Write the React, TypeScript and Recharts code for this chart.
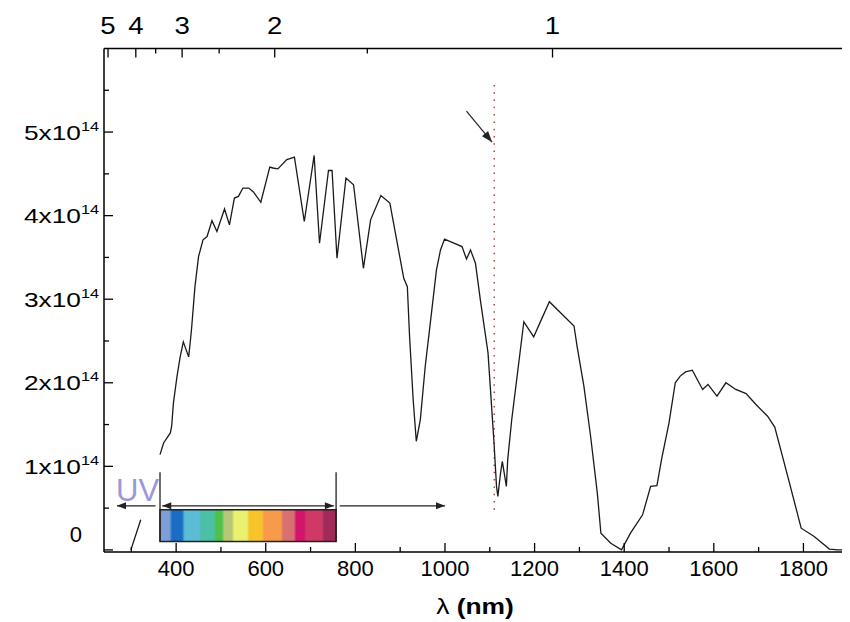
import React from 'react'
import { ComposedChart, Line, XAxis, YAxis, ReferenceLine, ReferenceArea, ReferenceDot, Label } from 'recharts'

// wavelength (nm) and photon flux (x10^14); null = gap in the trace
const wavelengthNm = [
    299, 321, 340, 364, 372, 387, 390, 394, 402, 409, 416, 428, 434, 442, 450, 460, 469, 480, 491, 508, 519,
    530, 539, 549, 562, 573, 589, 609, 616, 627, 647, 664, 686, 708, 720, 740, 748, 759, 779, 796, 818,
    834, 857, 877, 908, 916, 921, 929, 936, 945, 956, 968, 981, 990, 999, 1012, 1038, 1048, 1057, 1068, 1079,
    1096, 1109, 1115, 1118, 1124, 1128, 1137, 1140, 1149, 1161, 1176, 1198, 1233, 1288, 1295, 1310, 1325, 1340, 1348, 1370,
    1394, 1414, 1441, 1459, 1473, 1484, 1500, 1514, 1525, 1537, 1552, 1575, 1587, 1607, 1627, 1649, 1672, 1694, 1720, 1736,
    1765, 1795, 1824, 1858, 1877, 1893,
]
const photonFlux = [
    0, 0.36, null, 1.14, 1.28, 1.40, 1.48, 1.76, 2.08, 2.31, 2.49, 2.31, 2.62, 3.15, 3.51, 3.71, 3.75, 3.94, 3.81, 4.08, 3.89,
    4.21, 4.23, 4.33, 4.33, 4.28, 4.16, 4.58, 4.57, 4.56, 4.67, 4.70, 3.93, 4.72, 3.67, 4.54, 4.54, 3.49, 4.45, 4.37, 3.37,
    3.95, 4.24, 4.15, 3.25, 3.15, 2.55, 1.80, 1.30, 1.56, 2.20, 2.75, 3.35, 3.59, 3.72, 3.69, 3.63, 3.48, 3.59, 3.43, 2.99,
    2.36, 1.32, 0.76, 0.64, 0.92, 1.06, 0.76, 1.08, 1.56, 2.08, 2.73, 2.55, 2.97, 2.68, 2.43, 1.96, 1.36, 0.68, 0.20, 0.08,
    0, 0.20, 0.42, 0.76, 0.77, 1.10, 1.52, 2.00, 2.08, 2.13, 2.15, 1.92, 1.98, 1.84, 2.00, 1.92, 1.87, 1.74, 1.60, 1.47,
    0.88, 0.26, 0.16, 0.01, 0, 0,
]

const bottomTicks = [300, 400, 500, 600, 700, 800, 900, 1000, 1100, 1200, 1300, 1400, 1500, 1600, 1700, 1800]
const bottomLabels = [400, 600, 800, 1000, 1200, 1400, 1600, 1800]
const fluxTicks = [0, 0.5, 1, 1.5, 2, 2.5, 3, 3.5, 4, 4.5, 5, 5.5, 6]
const fluxLabels = [0, 1, 2, 3, 4, 5]
const photonEnergyEv = [5, 4, 3.5, 3, 2.5, 2, 1.5, 1]
const energyLabels = [5, 4, 3, 2, 1]

// annotations (data units)
const bandgapNm = 1110
const visibleRange = [364, 757]
const uvArrow = [354, 268]
const irArrow = [765, 1000]

const X_DOMAIN = [239, 1895]
const Y_DOMAIN = [-0.025, 6]
const FONT = '"Liberation Sans", Arial, sans-serif'

// colour bands of the visible-spectrum strip (fraction of strip width where each band ends)
const bandEnds = [0.061, 0.133, 0.227, 0.313, 0.358, 0.415, 0.5, 0.585, 0.693, 0.767, 0.824, 0.926, 1]
const bandColors = ['#7b9fd6', '#1b6cc4', '#5cbcd6', '#4cbfa6', '#4cc24c', '#b4c878', '#eaf070',
    '#f8c42c', '#f89a4c', '#d87070', '#d2146c', '#d03866', '#a02a58']

const chartData = wavelengthNm.map((nm, i) => ({ nm, flux: photonFlux[i] }))
const energyTicksNm = photonEnergyEv.map(e => 1240 / e)

const BottomTick = (props: any) => {
    const { x, y, payload } = props
    const major = bottomLabels.includes(payload.value)
    return (
        <g>
            <line x1={x} x2={x} y1={y} y2={y - (major ? 9 : 5)} stroke="#000" strokeWidth={1.3} />
            {major && (
                <text x={x} y={y + 24} textAnchor="middle" fontSize={22} fontFamily={FONT} fill="#000">
                    {payload.value}
                </text>
            )}
        </g>
    )
}

const TopTick = (props: any) => {
    const { x, y, payload } = props
    const ev = Math.round((1240 / payload.value) * 10) / 10
    const major = energyLabels.includes(ev)
    return (
        <g>
            <line x1={x} x2={x} y1={y} y2={y + (major ? 9 : 5)} stroke="#000" strokeWidth={1.3} />
            {major && (
                <g transform={`translate(${x},${y - 15}) scale(1.15,1)`}>
                    <text x={0} y={0} textAnchor="middle" fontSize={24} fontFamily={FONT} fill="#000">{ev}</text>
                </g>
            )}
        </g>
    )
}

const LeftTick = (props: any) => {
    const { x, y, payload } = props
    const v = payload.value
    const major = Number.isInteger(v)
    let label = null
    if (fluxLabels.includes(v)) {
        label = v === 0 ? (
            <text x={x - 22} y={y - 7.5} textAnchor="end" fontSize={22} fontFamily={FONT} fill="#000">0</text>
        ) : (
            <g transform={`translate(${x - 5},${y + 7.5}) scale(1.25,1)`}>
                <text x={0} y={0} textAnchor="end" fontSize={21} fontFamily={FONT} fill="#000">
                    {v}x10<tspan dy={-9} fontSize={13}>14</tspan>
                </text>
            </g>
        )
    }
    return (
        <g>
            {v < 6 && <line x1={x} x2={x + (major ? 9 : 5)} y1={y} y2={y} stroke="#000" strokeWidth={1.3} />}
            {label}
        </g>
    )
}

const arrowShape = (both: boolean, head = 9, half = 3.5) => (p: any) => {
    const { x1, y1, x2, y2 } = p
    const a = Math.atan2(y2 - y1, x2 - x1)
    const tip = (x: number, y: number, ang: number) => {
        const bx = x - head * Math.cos(ang)
        const by = y - head * Math.sin(ang)
        const nx = -Math.sin(ang) * half
        const ny = Math.cos(ang) * half
        return `${x},${y} ${bx + nx},${by + ny} ${bx - nx},${by - ny}`
    }
    return (
        <g>
            <line x1={x1} y1={y1} x2={x2} y2={y2} stroke="#222" strokeWidth={1.2} />
            <polygon points={tip(x2, y2, a)} fill="#222" />
            {both && <polygon points={tip(x1, y1, a + Math.PI)} fill="#222" />}
        </g>
    )
}

const AxisTitle = (props: any) => {
    const { viewBox } = props
    const cx = viewBox.x + viewBox.width / 2
    return (
        <g transform={`translate(${cx},${viewBox.y + 62}) scale(1.2,1)`}>
            <text x={0} y={0} textAnchor="middle" fontSize={22} fontFamily={FONT} fill="#000">
                λ <tspan fontWeight="bold">(nm)</tspan>
            </text>
        </g>
    )
}

function App() {
    return (
        <ComposedChart width={842} height={614} data={chartData} margin={{ top: 0, right: 3, bottom: 0, left: 0 }}>
            <defs>
                <linearGradient id="spectrum" x1="0" y1="0" x2="1" y2="0">
                    {bandColors.flatMap((c, i) => {
                        const start = i === 0 ? 0 : bandEnds[i - 1] + 0.008
                        const end = i === bandColors.length - 1 ? 1 : bandEnds[i] - 0.008
                        return [
                            <stop key={`a${i}`} offset={start} stopColor={c} />,
                            <stop key={`b${i}`} offset={end} stopColor={c} />,
                        ]
                    })}
                </linearGradient>
            </defs>
            <XAxis dataKey="nm" type="number" domain={X_DOMAIN} ticks={bottomTicks} interval={0}
                allowDataOverflow height={70} tickSize={0} tickMargin={0} tick={<BottomTick />}
                axisLine={{ stroke: '#000', strokeWidth: 1.5 }}>
                <Label content={<AxisTitle />} />
            </XAxis>
            <XAxis xAxisId="top" dataKey="nm" orientation="top" type="number" domain={X_DOMAIN} ticks={energyTicksNm}
                interval={0} allowDataOverflow height={40.5} tickSize={0} tickMargin={0} tick={<TopTick />}
                axisLine={{ stroke: '#000', strokeWidth: 1.5 }} />
            <YAxis type="number" domain={Y_DOMAIN} ticks={fluxTicks} interval={0} allowDataOverflow width={96}
                tickSize={0} tickMargin={0} tick={<LeftTick />} axisLine={{ stroke: '#000', strokeWidth: 1.5 }} />
            <YAxis yAxisId="right" orientation="right" type="number" domain={Y_DOMAIN} allowDataOverflow width={1}
                tick={false} tickLine={false} axisLine={{ stroke: '#000', strokeWidth: 1.5 }} />

            <ReferenceLine segment={[{ x: bandgapNm, y: 0.48 }, { x: bandgapNm, y: 5.63 }]}
                stroke="#b04848" strokeWidth={1.5} strokeDasharray="1.5 5.8" />
            <ReferenceLine segment={[{ x: 1048, y: 5.25 }, { x: 1105, y: 4.88 }]} shape={arrowShape(false, 11, 4)} />

            <ReferenceArea x1={visibleRange[0]} x2={visibleRange[1]} y1={0.1} y2={0.48}
                fill="url(#spectrum)" fillOpacity={1} stroke="#222" strokeWidth={1.5} />
            <ReferenceLine segment={[{ x: visibleRange[0], y: 0.1 }, { x: visibleRange[0], y: 0.93 }]} stroke="#222" strokeWidth={1.3} />
            <ReferenceLine segment={[{ x: visibleRange[1], y: 0.1 }, { x: visibleRange[1], y: 0.93 }]} stroke="#222" strokeWidth={1.3} />
            <ReferenceLine segment={[{ x: visibleRange[0] + 5, y: 0.527 }, { x: visibleRange[1] - 5, y: 0.527 }]} shape={arrowShape(true)} />
            <ReferenceLine segment={[{ x: irArrow[0], y: 0.527 }, { x: irArrow[1], y: 0.527 }]} shape={arrowShape(false)} />
            <ReferenceLine segment={[{ x: uvArrow[0], y: 0.527 }, { x: uvArrow[1], y: 0.527 }]} shape={arrowShape(false)} />
            <ReferenceDot x={314} y={0.72} r={0} fill="none" stroke="none"
                label={{ value: 'UV', position: 'center', fill: '#9a98d8', fontSize: 31, fontFamily: FONT }} />

            <Line dataKey="flux" type="linear" dot={false} stroke="#1a1a1a" strokeWidth={1.3} isAnimationActive={false} />
            <Line xAxisId="top" dataKey="flux" dot={false} activeDot={false} stroke="none" legendType="none" isAnimationActive={false} />
        </ComposedChart>
    )
}

export default App
